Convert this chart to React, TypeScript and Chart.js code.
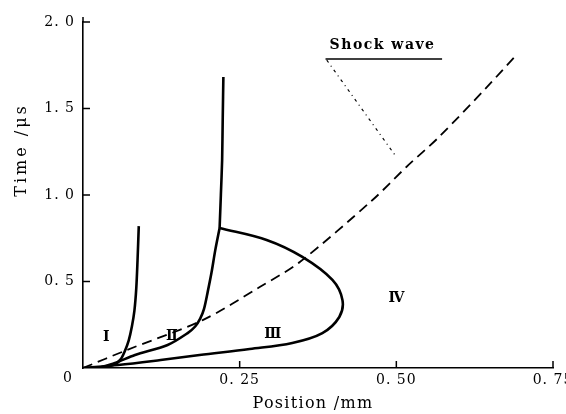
import { useEffect, useRef } from "react";
import { Chart, registerables } from "chart.js";

Chart.register(...registerables);

// ---- tick values and labels ----
const xTickValues = [0.25, 0.5, 0.75];
const xTickLabels = ["0. 25", "0. 50", "0. 75"];
const yTickValues = [0.5, 1.0, 1.5, 2.0];
const yTickLabels = ["0. 5", "1. 0", "1. 5", "2. 0"];

// ---- curve I (boundary near 0.09 mm) ----
const curve1X = [0.03, 0.05, 0.06, 0.067, 0.073, 0.078, 0.082, 0.085, 0.087, 0.089];
const curve1Y = [0.0, 0.02, 0.05, 0.1, 0.16, 0.24, 0.33, 0.46, 0.62, 0.82];

// ---- curve II, lower part (up to the corner where the loop starts) ----
const curve2LowX = [0.024, 0.051, 0.083, 0.135, 0.167, 0.179, 0.187, 0.193, 0.199, 0.205, 0.211, 0.218];
const curve2LowY = [0.0, 0.029, 0.075, 0.133, 0.202, 0.24, 0.285, 0.34, 0.44, 0.55, 0.68, 0.809];

// ---- curve II, upper part ----
const curve2HighX = [0.218, 0.22, 0.222, 0.223, 0.224];
const curve2HighY = [0.809, 1.0, 1.2, 1.45, 1.682];

// ---- curve III (closed loop region) ----
const curve3X = [0.218, 0.293, 0.350, 0.398, 0.414, 0.409, 0.382, 0.334, 0.266, 0.186, 0.124, 0.056, 0.0];
const curve3Y = [0.809, 0.740, 0.642, 0.509, 0.393, 0.295, 0.202, 0.145, 0.110, 0.075, 0.046, 0.017, 0.0];

// ---- shock wave (dashed) ----
const shockX = [0.0, 0.070, 0.191, 0.282, 0.346, 0.462, 0.516, 0.568, 0.643, 0.693];
const shockY = [0.0, 0.104, 0.277, 0.468, 0.613, 0.971, 1.162, 1.335, 1.618, 1.815];

// ---- region labels ----
const regionNames = ["Ⅰ", "Ⅱ", "Ⅲ", "Ⅳ"];
const regionX = [0.037, 0.142, 0.303, 0.5];
const regionY = [0.18, 0.185, 0.197, 0.405];

// ---- shock wave annotation ----
const shockLabel = "Shock wave";
const shockLabelPos = [0.478, 1.867];
const underlineX = [0.387, 0.573];
const underlineY = 1.786;
const leaderFrom = [0.389, 1.78];
const leaderTo = [0.5, 1.22];

const xTitle = "Position /mm";
const yTitle = "Time /μs";

const toPts = (xs: number[], ys: number[]) => xs.map((x, i) => ({ x, y: ys[i] }));

const SERIF = "'DejaVu Serif', 'Liberation Serif', serif";

export default function App() {
  const ref = useRef<HTMLCanvasElement | null>(null);

  useEffect(() => {
    document.body.style.margin = "0";
    const canvas = ref.current;
    if (!canvas) return;

    const overlay = {
      id: "overlay",
      beforeDraw(chart: any) {
        const ctx = chart.ctx;
        ctx.save();
        ctx.fillStyle = "#ffffff";
        ctx.fillRect(0, 0, chart.width, chart.height);
        ctx.restore();
        (ctx as any).letterSpacing = "1px";
      },
      afterDraw(chart: any) {
        const ctx = chart.ctx as CanvasRenderingContext2D;
        const xs = chart.scales.x;
        const ys = chart.scales.y;
        const area = chart.chartArea;
        ctx.save();
        ctx.strokeStyle = "#000";
        ctx.fillStyle = "#000";
        ctx.lineWidth = 1.5;
        // inward ticks
        xTickValues.forEach((v) => {
          const px = xs.getPixelForValue(v);
          ctx.beginPath();
          ctx.moveTo(px, area.bottom);
          ctx.lineTo(px, area.bottom - 7);
          ctx.stroke();
        });
        yTickValues.forEach((v) => {
          const py = ys.getPixelForValue(v);
          ctx.beginPath();
          ctx.moveTo(area.left, py);
          ctx.lineTo(area.left + 7, py);
          ctx.stroke();
        });
        // axis extension at top
        ctx.beginPath();
        ctx.moveTo(area.left, area.top);
        ctx.lineTo(area.left, area.top - 5);
        ctx.stroke();

        // origin label
        (ctx as any).letterSpacing = "1px";
        ctx.font = `14px ${SERIF}`;
        ctx.textAlign = "center";
        ctx.textBaseline = "middle";
        ctx.fillText("0", area.left - 15, area.bottom + 10);

        // axis titles
        ctx.font = `16px ${SERIF}`;
        (ctx as any).letterSpacing = "1.3px";
        ctx.fillText(xTitle, (area.left + area.right) / 2 - 5, area.bottom + 36);
        ctx.save();
        ctx.translate(22, area.top + (area.bottom - area.top) * 0.37);
        ctx.rotate(-Math.PI / 2);
        (ctx as any).letterSpacing = "3px";
        ctx.fillText(yTitle, 0, 0);
        ctx.restore();

        // region labels
        ctx.font = `bold 14px ${SERIF}`;
        (ctx as any).letterSpacing = "0px";
        regionNames.forEach((name, i) => {
          ctx.fillText(name, xs.getPixelForValue(regionX[i]), ys.getPixelForValue(regionY[i]));
        });

        // shock wave label
        ctx.font = `bold 14px ${SERIF}`;
        (ctx as any).letterSpacing = "1.5px";
        ctx.fillText(shockLabel, xs.getPixelForValue(shockLabelPos[0]), ys.getPixelForValue(shockLabelPos[1]));
        ctx.lineWidth = 1.3;
        ctx.beginPath();
        ctx.moveTo(xs.getPixelForValue(underlineX[0]), ys.getPixelForValue(underlineY));
        ctx.lineTo(xs.getPixelForValue(underlineX[1]), ys.getPixelForValue(underlineY));
        ctx.stroke();
        ctx.lineWidth = 1.2;
        ctx.setLineDash([3, 4, 1, 4]);
        ctx.beginPath();
        ctx.moveTo(xs.getPixelForValue(leaderFrom[0]), ys.getPixelForValue(leaderFrom[1]));
        ctx.lineTo(xs.getPixelForValue(leaderTo[0]), ys.getPixelForValue(leaderTo[1]));
        ctx.stroke();
        ctx.restore();
      },
    };

    const solid = (data: { x: number; y: number }[], tension: number) => ({
      data,
      borderColor: "#000",
      borderWidth: 2.6,
      pointRadius: 0,
      tension,
      showLine: true,
      fill: false,
    });

    const chart = new Chart(canvas, {
      type: "scatter",
      data: {
        datasets: [
          solid(toPts(curve1X, curve1Y), 0.3),
          solid(toPts(curve2LowX, curve2LowY), 0.3),
          solid(toPts(curve2HighX, curve2HighY), 0.2),
          solid(toPts(curve3X, curve3Y), 0.35),
          {
            data: toPts(shockX, shockY),
            borderColor: "#000",
            borderWidth: 1.8,
            borderDash: [10, 6],
            pointRadius: 0,
            tension: 0.3,
            showLine: true,
            fill: false,
          },
        ],
      },
      options: {
        animation: false,
        responsive: false,
        devicePixelRatio: 1,
        layout: { padding: { left: 0, top: 22, right: 13, bottom: 0 } },
        plugins: { legend: { display: false }, tooltip: { enabled: false }, title: { display: false } },
        scales: {
          x: {
            type: "linear",
            min: 0,
            max: 0.75,
            grid: { display: false, drawTicks: false },
            border: { display: true, color: "#000", width: 1.6 },
            afterBuildTicks: (scale: any) => {
              scale.ticks = xTickValues.map((v) => ({ value: v }));
            },
            afterFit: (scale: any) => {
              scale.height = 46;
              scale.paddingLeft = 0;
              scale.paddingRight = 0;
            },
            ticks: {
              padding: 4,
              color: "#000",
              font: { family: SERIF, size: 14 },
              maxRotation: 0,
              autoSkip: false,
              callback: (v: any) => {
                const i = xTickValues.indexOf(Number(v));
                return i >= 0 ? xTickLabels[i] : "";
              },
            },
          },
          y: {
            type: "linear",
            min: 0,
            max: 2.0,
            grid: { display: false, drawTicks: false },
            border: { display: true, color: "#000", width: 1.6 },
            afterBuildTicks: (scale: any) => {
              scale.ticks = yTickValues.map((v) => ({ value: v }));
            },
            afterFit: (scale: any) => {
              scale.width = 83;
              scale.paddingTop = 0;
              scale.paddingBottom = 0;
            },
            ticks: {
              padding: 8,
              color: "#000",
              font: { family: SERIF, size: 14 },
              autoSkip: false,
              callback: (v: any) => {
                const i = yTickValues.indexOf(Number(v));
                return i >= 0 ? yTickLabels[i] : "";
              },
            },
          },
        },
      },
      plugins: [overlay],
    } as any);

    return () => chart.destroy();
  }, []);

  return <canvas ref={ref} width={566} height={414} style={{ display: "block" }} />;
}
